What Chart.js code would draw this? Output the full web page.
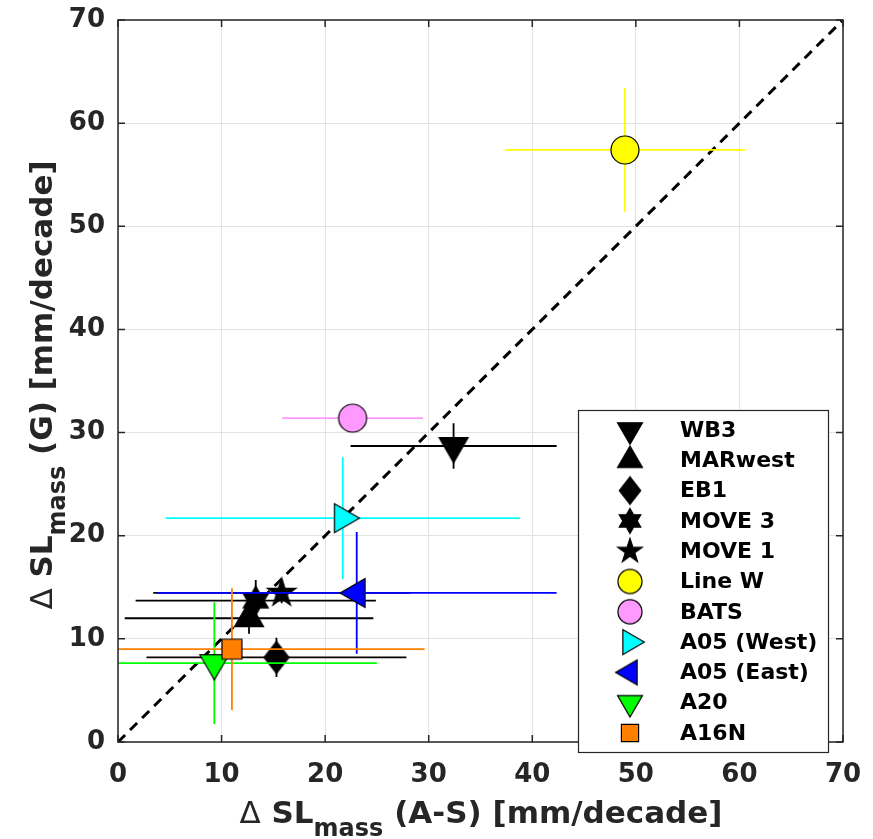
<!DOCTYPE html>
<html>
<head>
<meta charset="utf-8">
<script src="https://cdn.jsdelivr.net/npm/chart.js@4.4.1/dist/chart.umd.min.js"></script>
<style>
  html, body { margin: 0; padding: 0; background: #fff; }
  canvas { display: block; }
</style>
</head>
<body>
<canvas id="chart" width="873" height="839"></canvas>
<script>
(function () {
  'use strict';

  // --- data ---
  var labels = ['WB3', 'MARwest', 'EB1', 'MOVE 3', 'MOVE 1', 'Line W', 'BATS',
    'A05 (West)', 'A05 (East)', 'A20', 'A16N'];
  var xVals = [32.4, 12.65, 15.3, 13.3, 15.8, 48.95, 22.65, 21.7, 23.05, 9.3, 11.0];
  var yVals = [28.7, 12.0, 8.2, 13.7, 14.45, 57.4, 31.4, 21.7, 14.45, 7.65, 9.0];
  var xErr = [9.95, 12.0, 12.55, 11.6, 12.4, 11.6, 6.8, 17.1, 19.3, 15.7, 18.6];
  var yErr = [2.2, 1.5, 1.9, 2.0, 1.0, 6.0, 1.0, 5.9, 5.9, 5.9, 5.9];
  var fillColors = ['#000000', '#000000', '#000000', '#000000', '#000000', '#FFFF00',
    '#FF99FF', '#00FFFF', '#0000FF', '#00FF00', '#FF8000'];
  var shapes = ['tri-down', 'tri-up', 'diamond', 'hexagram', 'pentagram', 'circle',
    'circle', 'tri-right', 'tri-left', 'tri-down', 'square'];
  var diagX = [0, 70];
  var diagY = [0, 70];
  var axisTicks = [0, 10, 20, 30, 40, 50, 60, 70];

  var FONT = 'DejaVu Sans';
  var AXIS_COLOR = '#262626';

  function makeMarker(shape, fill, scale) {
    var s = scale || 1;
    var S = Math.ceil(46 * s);
    var cv = document.createElement('canvas');
    cv.width = S;
    cv.height = S;
    var ctx = cv.getContext('2d');
    ctx.translate(S / 2, S / 2);
    ctx.scale(s, s);
    ctx.beginPath();
    var k, a, rad;
    switch (shape) {
      case 'circle':
        ctx.arc(0, 0, 14, 0, Math.PI * 2);
        break;
      case 'square':
        ctx.rect(-10, -10, 20, 20);
        break;
      case 'diamond':
        ctx.moveTo(0, -16);
        ctx.lineTo(12.5, 0);
        ctx.lineTo(0, 16);
        ctx.lineTo(-12.5, 0);
        ctx.closePath();
        break;
      case 'tri-down':
        ctx.moveTo(-14.5, -8.3);
        ctx.lineTo(14.5, -8.3);
        ctx.lineTo(0, 16.7);
        ctx.closePath();
        break;
      case 'tri-up':
        ctx.moveTo(-14.5, 8.3);
        ctx.lineTo(14.5, 8.3);
        ctx.lineTo(0, -16.7);
        ctx.closePath();
        break;
      case 'tri-right':
        ctx.moveTo(-8.3, -14.5);
        ctx.lineTo(-8.3, 14.5);
        ctx.lineTo(16.7, 0);
        ctx.closePath();
        break;
      case 'tri-left':
        ctx.moveTo(8.3, -14.5);
        ctx.lineTo(8.3, 14.5);
        ctx.lineTo(-16.7, 0);
        ctx.closePath();
        break;
      case 'pentagram':
        for (k = 0; k < 10; k++) {
          a = -Math.PI / 2 + k * Math.PI / 5;
          rad = k % 2 === 0 ? 15 : 15 * 0.382;
          ctx.lineTo(rad * Math.cos(a), rad * Math.sin(a));
        }
        ctx.closePath();
        break;
      case 'hexagram':
        for (k = 0; k < 12; k++) {
          a = -Math.PI / 2 + k * Math.PI / 6;
          rad = k % 2 === 0 ? 14.5 : 14.5 / Math.sqrt(3);
          ctx.lineTo(rad * Math.cos(a), rad * Math.sin(a));
        }
        ctx.closePath();
        break;
    }
    ctx.fillStyle = fill;
    ctx.fill();
    ctx.lineWidth = 1.2 / s;
    ctx.strokeStyle = '#000';
    ctx.stroke();
    return cv;
  }

  var markers = shapes.map(function (sh, i) { return makeMarker(sh, fillColors[i], 1); });
  var legendMarkers = shapes.map(function (sh, i) { return makeMarker(sh, fillColors[i], 0.86); });

  var datasets = labels.map(function (name, i) {
    return {
      label: name,
      data: [{ x: xVals[i], y: yVals[i] }],
      pointStyle: markers[i],
      pointRadius: 14,
      order: labels.length - i
    };
  });
  datasets.push({
    label: 'diag',
    type: 'line',
    data: diagX.map(function (v, i) { return { x: v, y: diagY[i] }; }),
    borderColor: '#000',
    borderWidth: 3,
    borderDash: [10, 7],
    pointRadius: 0,
    fill: false,
    order: 100
  });

  // error bars drawn just before each marker, clipped to the axes
  var errorBars = {
    id: 'errorBars',
    beforeDatasetDraw: function (chart, args) {
      var i = args.index;
      if (i >= labels.length) return;
      var ctx = chart.ctx, a = chart.chartArea;
      var xs = chart.scales.x, ys = chart.scales.y;
      var px = xs.getPixelForValue(xVals[i]), py = ys.getPixelForValue(yVals[i]);
      ctx.save();
      ctx.beginPath();
      ctx.rect(a.left, a.top, a.right - a.left, a.bottom - a.top);
      ctx.clip();
      ctx.strokeStyle = fillColors[i];
      ctx.lineWidth = 1.8;
      ctx.beginPath();
      ctx.moveTo(xs.getPixelForValue(xVals[i] - xErr[i]), py);
      ctx.lineTo(xs.getPixelForValue(xVals[i] + xErr[i]), py);
      ctx.moveTo(px, ys.getPixelForValue(yVals[i] - yErr[i]));
      ctx.lineTo(px, ys.getPixelForValue(yVals[i] + yErr[i]));
      ctx.stroke();
      ctx.restore();
    }
  };

  // axis title: "Δ SL" with subscript "mass", then the rest
  function drawTitle(ctx, tail, cx, baseY) {
    var parts = [
      { t: '\u0394', font: 'normal 31px "' + FONT + '"', dy: 0 },
      { t: ' SL', font: 'bold 31px "' + FONT + '"', dy: 0 },
      { t: 'mass', font: 'bold 24px "' + FONT + '"', dy: 13 },
      { t: tail, font: 'bold 31px "' + FONT + '"', dy: 0 }
    ];
    var total = 0;
    parts.forEach(function (p) {
      ctx.font = p.font;
      p.w = ctx.measureText(p.t).width;
      total += p.w;
    });
    var x = cx - total / 2;
    ctx.fillStyle = AXIS_COLOR;
    ctx.textBaseline = 'alphabetic';
    ctx.textAlign = 'left';
    parts.forEach(function (p) {
      ctx.font = p.font;
      ctx.fillText(p.t, x, baseY + p.dy);
      x += p.w;
    });
  }

  var frame = {
    id: 'frame',
    afterDatasetsDraw: function (chart) {
      var ctx = chart.ctx, a = chart.chartArea;
      var xs = chart.scales.x, ys = chart.scales.y;
      ctx.save();
      ctx.strokeStyle = AXIS_COLOR;
      ctx.lineWidth = 1.5;
      ctx.strokeRect(a.left, a.top, a.right - a.left, a.bottom - a.top);
      ctx.beginPath();
      axisTicks.forEach(function (v) {
        var px = xs.getPixelForValue(v), py = ys.getPixelForValue(v);
        ctx.moveTo(px, a.bottom); ctx.lineTo(px, a.bottom - 7);
        ctx.moveTo(px, a.top); ctx.lineTo(px, a.top + 7);
        ctx.moveTo(a.left, py); ctx.lineTo(a.left + 7, py);
        ctx.moveTo(a.right, py); ctx.lineTo(a.right - 7, py);
      });
      ctx.stroke();
      ctx.restore();
    },
    afterDraw: function (chart) {
      var ctx = chart.ctx;
      ctx.save();
      drawTitle(ctx, ' (A-S) [mm/decade]', 481, 823);
      ctx.translate(51.5, 385);
      ctx.rotate(-Math.PI / 2);
      drawTitle(ctx, ' (G) [mm/decade]', 0, 0);
      ctx.restore();

      // legend box
      ctx.save();
      ctx.fillStyle = '#fff';
      ctx.fillRect(578, 410, 250, 342);
      ctx.strokeStyle = AXIS_COLOR;
      ctx.lineWidth = 1.2;
      ctx.strokeRect(578.5, 410.5, 250, 342);
      ctx.font = 'bold 22px "' + FONT + '"';
      ctx.fillStyle = '#000';
      ctx.textBaseline = 'middle';
      ctx.textAlign = 'left';
      chart.data.datasets.forEach(function (ds, i) {
        if (i >= labels.length) return;
        var cy = 430 + 30.3 * i;
        var m = legendMarkers[i];
        ctx.drawImage(m, 630 - m.width / 2, cy - m.height / 2);
        ctx.fillText(ds.label, 680, cy + 1);
      });
      ctx.restore();
    }
  };

  function setTicks(scale) {
    scale.ticks = axisTicks.map(function (v) { return { value: v }; });
  }

  var tickFont = { family: FONT, size: 26, weight: 'bold' };

  new Chart(document.getElementById('chart'), {
    type: 'scatter',
    data: { datasets: datasets },
    options: {
      responsive: false,
      animation: false,
      events: [],
      layout: { padding: { top: 20, right: 30, left: 0, bottom: 0 } },
      plugins: { legend: { display: false }, tooltip: { enabled: false } },
      scales: {
        x: {
          type: 'linear',
          min: 0,
          max: 70,
          afterBuildTicks: setTicks,
          afterFit: function (s) {
            s.height = 97;
            s.paddingLeft = 0;
            s.paddingRight = 0;
          },
          border: { display: false },
          grid: { color: '#E3E3E3', lineWidth: 1, drawTicks: false },
          ticks: { font: tickFont, color: AXIS_COLOR, padding: 18, maxRotation: 0 }
        },
        y: {
          type: 'linear',
          min: 0,
          max: 70,
          afterBuildTicks: setTicks,
          afterFit: function (s) {
            s.width = 118;
            s.paddingTop = 0;
            s.paddingBottom = 0;
          },
          border: { display: false },
          grid: { color: '#E3E3E3', lineWidth: 1, drawTicks: false },
          ticks: { font: tickFont, color: AXIS_COLOR, padding: 13 }
        }
      }
    },
    plugins: [errorBars, frame]
  });
})();
</script>
</body>
</html>
